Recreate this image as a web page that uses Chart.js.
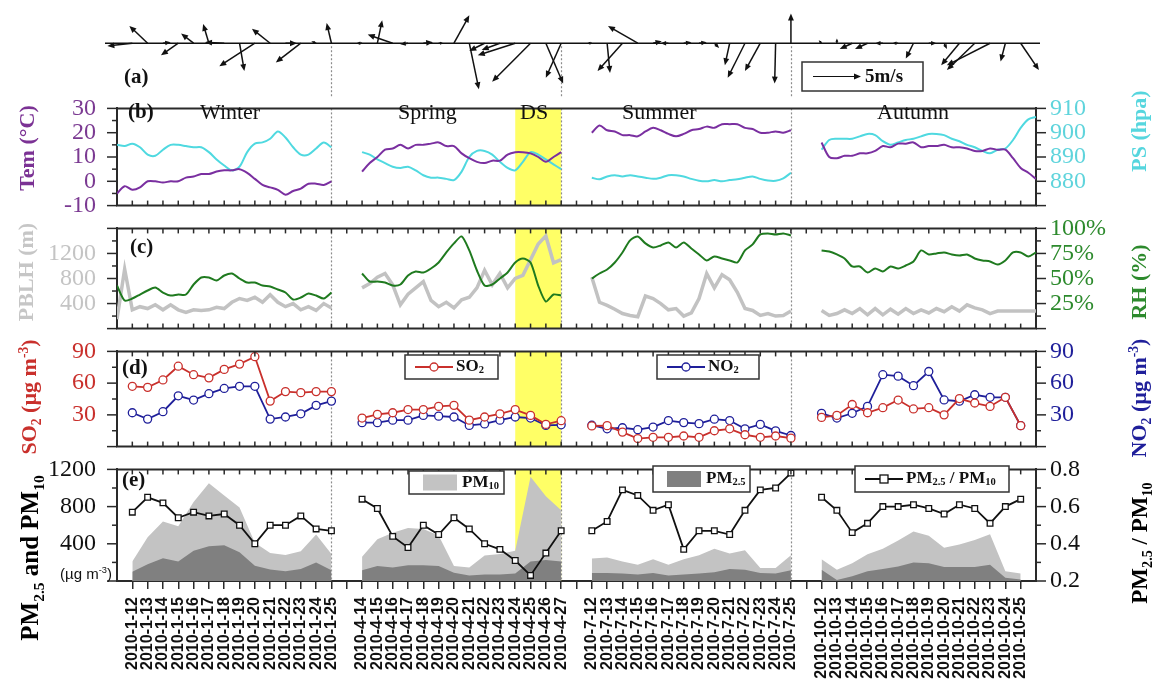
<!doctype html>
<html>
<head>
<meta charset="utf-8">
<title>Wind, meteorology and pollutants 2010</title>
<script src="https://cdn.jsdelivr.net/npm/chart.js"></script>
<style>
  html, body { margin: 0; padding: 0; background: #fff; }
  body { position: relative; width: 1152px; height: 686px; overflow: hidden; font-family: 'Liberation Serif', 'Times New Roman', serif; }
  .box { position: absolute; left: 0; width: 1152px; }
  .t { position: absolute; white-space: nowrap; line-height: 1; color: #111; }
  .v { position: absolute; white-space: nowrap; line-height: 1; font-weight: bold; transform: translate(-50%, -50%) rotate(-90deg); }
  sub, sup { font-size: 62%; line-height: 0; }
</style>
</head>
<body>

<div class="box" style="top:0;height:111px"><canvas id="windChart"></canvas></div>
<div class="box" style="top:83px;height:148px"><canvas id="tempChart"></canvas></div>
<div class="box" style="top:203px;height:151px"><canvas id="pblhChart"></canvas></div>
<div class="box" style="top:326px;height:146px"><canvas id="gasChart"></canvas></div>
<div class="box" style="top:444px;height:242px"><canvas id="pmChart"></canvas></div>

<!-- panel letters and season names -->
<div class="t" style="left:124px;top:66px;font-size:21px;font-weight:bold">(a)</div>
<div class="t" style="left:128px;top:101px;font-size:21px;font-weight:bold">(b)</div>
<div class="t" style="left:130px;top:236px;font-size:21px;font-weight:bold">(c)</div>
<div class="t" style="left:122px;top:357px;font-size:21px;font-weight:bold">(d)</div>
<div class="t" style="left:122px;top:469px;font-size:21px;font-weight:bold">(e)</div>
<div class="t" style="left:200px;top:101px;font-size:22px">Winter</div>
<div class="t" style="left:398px;top:101px;font-size:22px">Spring</div>
<div class="t" style="left:520px;top:101px;font-size:22px">DS</div>
<div class="t" style="left:622px;top:101px;font-size:22px">Summer</div>
<div class="t" style="left:877px;top:101px;font-size:22px">Autumn</div>

<!-- axis titles -->
<div class="v" style="left:27px;top:148px;font-size:22px;color:#7b3294">Tem (°C)</div>
<div class="v" style="left:1139px;top:131px;font-size:22px;color:#56d6de">PS (hpa)</div>
<div class="v" style="left:26px;top:272px;font-size:22px;color:#c6c6c6">PBLH (m)</div>
<div class="v" style="left:1139px;top:282px;font-size:22px;color:#2d8a2d">RH (%)</div>
<div class="v" style="left:29px;top:397px;font-size:22px;color:#c9302c">SO<sub>2</sub> (µg m<sup>-3</sup>)</div>
<div class="v" style="left:1139px;top:398px;font-size:22px;color:#1f1f9a">NO<sub>2</sub> (µg m<sup>-3</sup>)</div>
<div class="v" style="left:29px;top:558px;font-size:25px;color:#000">PM<sub>2.5</sub> and PM<sub>10</sub></div>
<div class="v" style="left:1139px;top:543px;font-size:23px;color:#000">PM<sub>2.5</sub> / PM<sub>10</sub></div>
<div class="t" style="left:60px;top:566px;font-size:15px;font-family:'Liberation Sans',Arial,sans-serif">(µg m<sup>-3</sup>)</div>

<script>
// ---- x layout: one index per day, gaps between the four periods ----
const X_MIN = -1, X_MAX = 59;
const HALF = 0.5;
const dayStart = [0, 15, 30, 45];
const hourStart = [-1, 15, 30, 45];
const seasonBreaks = [13, 28, 43];
const dustDays = [25, 28];

const winterDates = ['2010-1-12','2010-1-13','2010-1-14','2010-1-15','2010-1-16','2010-1-17','2010-1-18','2010-1-19','2010-1-20','2010-1-21','2010-1-22','2010-1-23','2010-1-24','2010-1-25'];
const springDates = ['2010-4-14','2010-4-15','2010-4-16','2010-4-17','2010-4-18','2010-4-19','2010-4-20','2010-4-21','2010-4-22','2010-4-23','2010-4-24','2010-4-25','2010-4-26','2010-4-27'];
const summerDates = ['2010-7-12','2010-7-13','2010-7-14','2010-7-15','2010-7-16','2010-7-17','2010-7-18','2010-7-19','2010-7-20','2010-7-21','2010-7-22','2010-7-23','2010-7-24','2010-7-25'];
const autumnDates = ['2010-10-12','2010-10-13','2010-10-14','2010-10-15','2010-10-16','2010-10-17','2010-10-18','2010-10-19','2010-10-20','2010-10-21','2010-10-22','2010-10-23','2010-10-24','2010-10-25'];

// ---- (a) daily wind vectors, m/s ----
const windUWinter = [-2.6, -1.9, 0.8, -1.8, -1.3, -0.6, -2.0, 0.5, -3.7, -1.9, 1.2, -2.6, -0.5, -0.5];
const windVWinter = [-0.3, 1.8, 0.1, -1.25, 1.0, 2.0, 0.1, -2.9, -2.4, 1.5, 0, -2.0, 0.2, 2.1];
const windUSpring = [-0.6, 0.5, -2.6, -0.8, 1.0, 0.5, 1.6, 1.0, -1.6, -1.9, -3.9, -4.0, 1.8, -1.6];
const windVSpring = [0, 2.4, 0.9, -0.1, 0.1, 0, 2.9, -4.8, -0.8, -0.7, -1.25, -4.0, -4.2, -3.6];
const windUSummer = [-0.5, 0.3, -2.6, -3.1, 0.9, -0.8, 0.8, 0.8, 0.5, -0.5, -1.8, -1.6, -0.1, 0];
const windVSummer = [0, -3.1, -2.9, 1.8, 0.2, 0, 0.1, 0.1, -0.5, -2.3, -3.6, -2.9, -4.2, 3.1];
const windUAutumn = [-0.3, 0, -1.3, -1.3, -0.8, -0.6, -0.8, 0.8, 0.3, -1.9, -2.9, -4.5, -0.5, 1.9];
const windVAutumn = [0.3, 0.5, -0.6, -0.6, 0, 0, -1.6, 0, -0.6, -2.3, -2.8, -2.3, -1.9, -2.8];

// ---- (b) temperature (°C) and surface pressure (hPa), twice a day ----
const temWinter = [-5, -2, -3.5, -2.5, 0, 0, -0.5, 0, 0, 1.5, 2, 3, 3, 4, 4.5, 4.5, 5, 3.5, 1, -1.5, -2.5, -3.5, -5.5, -4, -3, -1, -1, -1.5, 0];
const temSpring = [4, 7.5, 10, 13, 13.5, 15, 13.5, 15, 15, 15.5, 16, 14.5, 14.5, 11.5, 9.5, 8, 7.5, 8.5, 8.5, 11, 12, 12, 11.5, 10, 8, 10, 12];
const temSummer = [20, 23, 21, 20.5, 19, 19, 18.5, 20.5, 22, 21, 19.5, 18.5, 19.5, 21, 21.5, 22.5, 22, 23.5, 23.5, 23.5, 22, 21.5, 20, 20, 20.5, 20, 21];
const temAutumn = [16, 10, 9.5, 10.5, 10.5, 11.5, 11.5, 12.5, 14.5, 14, 15.5, 15.5, 16, 14, 14.5, 14.5, 15, 14, 14, 13.5, 12.5, 12.5, 13.5, 13, 13, 9.5, 5.5, 3.5, 1];
const psWinter = [895, 894.5, 895.5, 894, 891, 890.5, 893, 895, 895, 894.5, 894, 894, 892, 889, 886.5, 884.5, 886, 892, 895.5, 896, 897.5, 900.5, 898, 894, 891, 891, 893.5, 896, 894];
const psSpring = [892, 891, 889, 887.5, 886, 885.5, 886, 884.5, 882.5, 881.5, 881.5, 881, 880.5, 884, 890, 892.5, 892.5, 891, 888, 885.5, 884.5, 888, 892, 891, 889, 887, 885];
const psSummer = [881.5, 880.8, 882, 882.5, 882, 882.5, 882, 881.5, 881, 881.5, 882.5, 882.5, 882, 881, 880.2, 880, 880.5, 880, 880.5, 880.8, 881.5, 882, 881, 880.3, 880.2, 881.2, 883.5];
const psAutumn = [893, 897, 897.5, 897.5, 897.5, 898.5, 899.5, 899, 896.5, 895, 896, 897, 897.5, 898.5, 899.5, 899.5, 899, 897.5, 896.5, 895, 894, 892.5, 891.5, 893, 893.5, 897, 902, 905.5, 906.5];

// ---- (c) boundary layer height (m) and relative humidity (%) ----
const pblhWinter = [150, 950, 300, 350, 320, 380, 300, 380, 300, 260, 300, 290, 300, 340, 320, 420, 480, 450, 500, 420, 540, 420, 350, 400, 300, 350, 290, 400, 330];
const pblhSpring = [650, 720, 820, 880, 700, 380, 550, 650, 750, 450, 350, 420, 330, 460, 500, 650, 930, 700, 880, 650, 800, 850, 1100, 1350, 1480, 1050, 1100];
const pblhSummer = [820, 420, 370, 310, 240, 210, 190, 520, 480, 400, 300, 320, 200, 250, 480, 880, 650, 860, 780, 580, 320, 290, 210, 240, 200, 210, 280];
const pblhAutumn = [290, 210, 240, 300, 240, 320, 220, 320, 220, 310, 230, 320, 240, 300, 250, 320, 270, 350, 280, 380, 330, 300, 240, 280, 280, 280, 280, 280, 280];
const rhWinter = [43, 28, 30, 34, 38, 41, 36, 33, 34, 34, 44, 51, 51, 48, 53, 55, 50, 46, 46, 43, 42, 39, 36, 29, 31, 35, 33, 30, 36];
const rhSpring = [55, 47, 47, 46, 43, 44, 53, 57, 56, 60, 66, 76, 85, 92, 78, 58, 43, 44, 50, 56, 66, 70, 66, 43, 27, 34, 33];
const rhSummer = [50, 55, 59, 66, 76, 88, 92, 85, 81, 83, 86, 81, 86, 80, 74, 68, 72, 70, 68, 66, 78, 84, 94, 95, 94, 95, 93];
const rhAutumn = [78, 77, 74, 70, 62, 62, 56, 60, 57, 62, 60, 63, 67, 78, 74, 75, 76, 74, 73, 74, 70, 68, 67, 64, 68, 76, 76, 72, 76];

// ---- (d) daily SO2 and NO2 (µg m-3) ----
const so2Winter = [57, 56, 63, 76, 68, 65, 73, 78, 85, 43, 52, 51, 52, 52];
const so2Spring = [27, 30.5, 32, 35, 35, 38, 39, 25, 28, 31, 35, 29.5, 21, 24.5];
const so2Summer = [19.5, 19.8, 13.7, 7.6, 8.8, 8.8, 10, 8.8, 15, 16.8, 11.2, 8.8, 10, 8];
const so2Autumn = [27.6, 29.5, 39.8, 32, 36.8, 44, 35.6, 36.8, 30, 45.4, 41.2, 38, 46.6, 19.8];
const no2Winter = [32, 26, 33, 48, 44, 50, 55, 57, 57, 26, 28, 31, 39, 43];
const no2Spring = [22.6, 22.6, 25, 25, 29.5, 28.8, 28, 20, 21.4, 25, 28, 27, 20, 20.6];
const no2Summer = [20.2, 16.8, 17.8, 16, 18.5, 24.6, 22.7, 21.7, 25.9, 24.6, 16.8, 21, 14.9, 10.5];
const no2Autumn = [31.5, 27, 31.5, 38, 68, 66.6, 57.6, 71, 44.1, 42.9, 49, 46.6, 46.6, 19.8];

// ---- (e) daily PM10, PM2.5 (µg m-3) and PM2.5/PM10 ----
const pm10Winter = [210, 470, 640, 590, 850, 1050, 920, 790, 410, 300, 280, 320, 500, 290];
const pm10Spring = [260, 450, 520, 570, 560, 490, 160, 145, 275, 290, 325, 1120, 910, 760];
const pm10Summer = [243, 254, 209, 174, 233, 174, 233, 278, 348, 296, 330, 139, 139, 278];
const pm10Autumn = [233, 122, 191, 288, 348, 435, 532, 487, 358, 393, 441, 504, 104, 80];
const pm25Winter = [100, 180, 245, 210, 325, 375, 385, 310, 165, 125, 105, 130, 200, 115];
const pm25Spring = [115, 160, 145, 170, 170, 160, 90, 60, 70, 70, 80, 210, 225, 210];
const pm25Summer = [87, 87, 80, 70, 87, 59, 70, 80, 94, 129, 122, 87, 80, 115];
const pm25Autumn = [122, 10, 52, 104, 129, 157, 198, 191, 150, 150, 150, 174, 35, 17];
const ratioWinter = [0.57, 0.65, 0.62, 0.54, 0.57, 0.55, 0.56, 0.50, 0.40, 0.50, 0.50, 0.55, 0.48, 0.47];
const ratioSpring = [0.64, 0.59, 0.44, 0.38, 0.50, 0.45, 0.54, 0.48, 0.40, 0.37, 0.31, 0.23, 0.35, 0.47];
const ratioSummer = [0.47, 0.52, 0.69, 0.66, 0.58, 0.61, 0.37, 0.47, 0.47, 0.45, 0.58, 0.69, 0.70, 0.78];
const ratioAutumn = [0.65, 0.58, 0.46, 0.51, 0.60, 0.60, 0.61, 0.59, 0.56, 0.61, 0.59, 0.51, 0.60, 0.64];

const SERIF = "'Liberation Serif', 'Times New Roman', serif";
const SANS = "'Liberation Sans', Arial, sans-serif";
const INK = '#2a2a2a';

// points for several periods, broken by a null between them
function joinPeriods(starts, step, arrays) {
  const pts = [];
  arrays.forEach((arr, p) => {
    if (p > 0) pts.push({x: starts[p] - step, y: null});
    arr.forEach((v, k) => pts.push({x: starts[p] + k * step, y: v}));
  });
  return pts;
}
function onePeriod(start, arr) {
  return arr.map((v, k) => ({x: start + k, y: v}));
}

const dateAt = {};
[winterDates, springDates, summerDates, autumnDates].forEach((arr, p) => {
  arr.forEach((d, k) => { dateAt[dayStart[p] + k] = d; });
});
const dayTicks = [];
for (let i = X_MIN + 1; i < X_MAX; i++) dayTicks.push(i);

const windPoints = [];
[[windUWinter, windVWinter], [windUSpring, windVSpring], [windUSummer, windVSummer], [windUAutumn, windVAutumn]]
  .forEach(([us, vs], p) => us.forEach((u, k) => windPoints.push({x: dayStart[p] + k, y: 0, u: u, v: vs[k]})));

// ---- drawing helpers ----
function seg(ctx, x0, y0, x1, y1) {
  ctx.beginPath(); ctx.moveTo(x0, y0); ctx.lineTo(x1, y1); ctx.stroke();
}
function arrow(ctx, x0, y0, x1, y1) {
  const len = Math.hypot(x1 - x0, y1 - y0);
  if (len < 0.5) return;
  const head = Math.min(7, len * 0.7), half = head * 0.42;
  const c = (x1 - x0) / len, s = (y1 - y0) / len;
  seg(ctx, x0, y0, x1 - c * head * 0.6, y1 - s * head * 0.6);
  ctx.beginPath();
  ctx.moveTo(x1, y1);
  ctx.lineTo(x1 - c * head - s * half, y1 - s * head + c * half);
  ctx.lineTo(x1 - c * head + s * half, y1 - s * head - c * half);
  ctx.closePath(); ctx.fill();
}
function richText(ctx, parts, x, y, size) {
  let cx = x;
  parts.forEach(([t, mode]) => {
    const s = mode ? size * 0.62 : size;
    ctx.font = 'bold ' + s + 'px ' + SERIF;
    const dy = mode === 'sub' ? size * 0.22 : (mode === 'sup' ? -size * 0.4 : 0);
    ctx.fillText(t, cx, y + dy);
    cx += ctx.measureText(t).width;
  });
}
function drawLegend(ctx, L, top) {
  const y = L.y - top, cy = y + L.h / 2;
  ctx.save();
  ctx.fillStyle = '#fff'; ctx.strokeStyle = '#333'; ctx.lineWidth = 1.5;
  ctx.fillRect(L.x, y, L.w, L.h); ctx.strokeRect(L.x, y, L.w, L.h);
  let tx;
  if (L.kind === 'rect') {
    ctx.fillStyle = L.color; ctx.fillRect(L.x + 14, cy - 8, 34, 16);
    tx = L.x + 53;
  } else {
    ctx.strokeStyle = L.color; ctx.lineWidth = 2;
    seg(ctx, L.x + 10, cy, L.x + 48, cy);
    ctx.fillStyle = '#fff'; ctx.lineWidth = 1.3;
    if (L.marker === 'rect') { ctx.fillRect(L.x + 25, cy - 4, 8, 8); ctx.strokeRect(L.x + 25, cy - 4, 8, 8); }
    else { ctx.beginPath(); ctx.arc(L.x + 29, cy, 4, 0, Math.PI * 2); ctx.fill(); ctx.stroke(); }
    tx = L.x + 51;
  }
  ctx.fillStyle = '#111'; ctx.textBaseline = 'middle';
  richText(ctx, L.text, tx, cy, 17);
  ctx.restore();
}

// band, dotted season lines, frame, tick marks, legends
const decoPlugin = {
  id: 'deco',
  beforeDatasetsDraw(chart, args, o) {
    const {ctx, chartArea: a} = chart;
    const xs = chart.scales.x;
    ctx.save();
    if (o.band) {
      const x0 = xs.getPixelForValue(o.band[0]), x1 = xs.getPixelForValue(o.band[1]);
      ctx.fillStyle = '#ffff66';
      ctx.fillRect(x0, a.top, x1 - x0, a.bottom - a.top);
    }
    if (o.dividers) {
      ctx.strokeStyle = '#8c8c8c'; ctx.lineWidth = 1.2; ctx.setLineDash([2, 2]);
      const yTop = o.dividerTop != null ? chart.scales.y.getPixelForValue(0) + o.dividerTop : a.top;
      o.dividers.forEach(d => {
        const x = Math.round(xs.getPixelForValue(d)) + 0.5;
        seg(ctx, x, yTop, x, a.bottom);
      });
    }
    ctx.restore();
  },
  afterDraw(chart, args, o) {
    const {ctx, chartArea: a} = chart;
    const xs = chart.scales.x;
    ctx.save();
    ctx.strokeStyle = INK;
    if (o.frame) {
      ctx.lineWidth = 2;
      if (o.frame.top) seg(ctx, a.left - 1, a.top, a.right + 1, a.top);
      if (o.frame.bottom) seg(ctx, a.left - 1, a.bottom, a.right + 1, a.bottom);
      ctx.lineWidth = 1.5;
      dayTicks.forEach(i => {
        const x = xs.getPixelForValue(i);
        if (o.frame.topTicks) seg(ctx, x, a.top, x, a.top + 5);
        if (o.frame.bottomTicks) seg(ctx, x, a.bottom - 5, x, a.bottom);
      });
    }
    (o.yTicks || []).forEach(t => {
      const s = chart.scales[t.id];
      const left = s.position === 'left';
      const x = left ? a.left : a.right;
      ctx.lineWidth = 1.5;
      const n = Math.round((s.max - s.min) / t.minor);
      for (let i = 0; i <= n; i++) {
        const v = s.min + i * t.minor;
        const r = v / t.major;
        const len = Math.abs(r - Math.round(r)) < 1e-6 ? 10 : 5;
        const y = s.getPixelForValue(v);
        seg(ctx, x, y, left ? x - len : x + len, y);
      }
    });
    (o.legends || []).forEach(L => drawLegend(ctx, L, o.top));
    ctx.restore();
  }
};

// stick vectors on a base line, scaled with the y axis (m/s)
const windPlugin = {
  id: 'wind',
  afterDatasetsDraw(chart, args, o) {
    if (!o.on) return;
    const {ctx, chartArea: a} = chart;
    const xs = chart.scales.x, ys = chart.scales.y;
    const y0 = ys.getPixelForValue(0);
    const ppm = y0 - ys.getPixelForValue(1);
    ctx.save();
    ctx.strokeStyle = '#111'; ctx.fillStyle = '#111'; ctx.lineWidth = 1.5;
    seg(ctx, a.left - 12, y0, a.right + 4, y0);
    chart.data.datasets[0].data.forEach(p => {
      const x = xs.getPixelForValue(p.x);
      arrow(ctx, x, y0, x + p.u * ppm, y0 - p.v * ppm);
    });
    // reference arrow
    const b = o.key;
    ctx.fillStyle = '#fff'; ctx.strokeStyle = '#333';
    ctx.fillRect(b.x, b.y, b.w, b.h); ctx.strokeRect(b.x, b.y, b.w, b.h);
    ctx.fillStyle = '#111'; ctx.strokeStyle = '#111'; ctx.lineWidth = 1.2;
    const ay = b.y + b.h / 2;
    arrow(ctx, b.x + 11, ay, b.x + 11 + b.speed * ppm, ay);
    ctx.font = 'bold 19px ' + SERIF; ctx.textBaseline = 'middle';
    ctx.fillText(b.speed + 'm/s', b.x + 15 + b.speed * ppm, ay + 1);
    ctx.restore();
  }
};

Chart.register(decoPlugin, windPlugin);
Chart.defaults.font.family = SERIF;

function yAxis(pos, min, max, labels, color, fmt) {
  return {
    type: 'linear', position: pos, min: min, max: max,
    afterFit: s => { s.width = pos === 'left' ? 117 : 116; },
    afterBuildTicks: s => { s.ticks = labels.map(v => ({value: v})); },
    grid: {display: true, drawOnChartArea: false, drawTicks: true, tickLength: 10, color: 'rgba(0,0,0,0)'},
    border: {display: true, color: INK, width: 2},
    ticks: {autoSkip: false, color: color, font: {family: SERIF, size: 24}, padding: pos === 'left' ? 11 : 4,
            callback: fmt || (v => String(v))}
  };
}
function xHidden() { return {type: 'linear', min: X_MIN, max: X_MAX, display: false}; }
function baseOptions(scales, deco, padding) {
  return {
    responsive: true, maintainAspectRatio: false, animation: false, events: [],
    layout: {padding: padding || {top: 14, bottom: 14, left: 0, right: 0}},
    scales: scales,
    plugins: {legend: {display: false}, tooltip: {enabled: false}, deco: deco}
  };
}
function lineSet(data, axis, color, width, tension) {
  return {data: data, yAxisID: axis, borderColor: color, borderWidth: width, pointRadius: 0, tension: tension, fill: false, spanGaps: false};
}
function markerSet(data, axis, color, style) {
  return {data: data, yAxisID: axis, borderColor: color, borderWidth: 1.8, tension: 0, fill: false, spanGaps: false,
          pointStyle: style, pointRadius: 4, pointBorderWidth: 1.3, pointBackgroundColor: '#fff', pointBorderColor: color};
}
function areaSet(data, color) {
  return {data: data, yAxisID: 'yPM', backgroundColor: color, borderWidth: 0, pointRadius: 0, tension: 0, fill: 'origin'};
}

// (a) wind
new Chart(document.getElementById('windChart'), {
  type: 'scatter',
  data: {datasets: [{data: windPoints, pointRadius: 0}]},
  options: {
    responsive: true, maintainAspectRatio: false, animation: false, events: [],
    layout: {padding: {left: 117, right: 116, top: 0, bottom: 14}},
    scales: {x: xHidden(), y: {type: 'linear', min: -5.6, max: 4.5, display: false}},
    plugins: {legend: {display: false}, tooltip: {enabled: false},
      deco: {dividers: seasonBreaks, dividerTop: 3},
      wind: {on: true, key: {x: 802, y: 62, w: 121, h: 29, speed: 5}}}
  }
});

// (b) temperature and pressure
new Chart(document.getElementById('tempChart'), {
  type: 'line',
  data: {datasets: [
    lineSet(joinPeriods(hourStart, HALF, [temWinter, temSpring, temSummer, temAutumn]), 'yT', '#7a2fa0', 2, 0.3),
    lineSet(joinPeriods(hourStart, HALF, [psWinter, psSpring, psSummer, psAutumn]), 'yP', '#4fd9e0', 2, 0.3)
  ]},
  options: baseOptions({
    x: xHidden(),
    yT: yAxis('left', -10, 30, [-10, 0, 10, 20, 30], '#7b3a92'),
    yP: yAxis('right', 870, 910, [880, 890, 900, 910], '#5fd4dc')
  }, {band: dustDays, dividers: seasonBreaks, frame: {top: true, bottom: true, bottomTicks: true},
      yTicks: [{id: 'yT', major: 10, minor: 5}, {id: 'yP', major: 10, minor: 5}]})
});

// (c) PBLH and RH
new Chart(document.getElementById('pblhChart'), {
  type: 'line',
  data: {datasets: [
    lineSet(joinPeriods(hourStart, HALF, [rhWinter, rhSpring, rhSummer, rhAutumn]), 'yR', '#1f7a1f', 2, 0.25),
    lineSet(joinPeriods(hourStart, HALF, [pblhWinter, pblhSpring, pblhSummer, pblhAutumn]), 'yH', '#c2c2c2', 3.5, 0)
  ]},
  options: baseOptions({
    x: xHidden(),
    yH: yAxis('left', 0, 1600, [400, 800, 1200], '#c4c4c4'),
    yR: yAxis('right', 0, 100, [25, 50, 75, 100], '#2d8a2d', v => v + '%')
  }, {band: dustDays, dividers: seasonBreaks, frame: {top: true, bottom: true, topTicks: true, bottomTicks: true},
      yTicks: [{id: 'yH', major: 400, minor: 200}, {id: 'yR', major: 25, minor: 12.5}]})
});

// (d) SO2 and NO2
new Chart(document.getElementById('gasChart'), {
  type: 'line',
  data: {datasets: [
    markerSet(joinPeriods(dayStart, 1, [so2Winter, so2Spring, so2Summer, so2Autumn]), 'yS', '#c9302c', 'circle'),
    markerSet(joinPeriods(dayStart, 1, [no2Winter, no2Spring, no2Summer, no2Autumn]), 'yN', '#1f1f9a', 'circle')
  ]},
  options: baseOptions({
    x: xHidden(),
    yS: yAxis('left', 0, 90, [30, 60, 90], '#c9302c'),
    yN: yAxis('right', 0, 90, [30, 60, 90], '#1f1f9a')
  }, {band: dustDays, dividers: seasonBreaks, frame: {top: true, bottom: true, topTicks: true, bottomTicks: true},
      yTicks: [{id: 'yS', major: 30, minor: 15}, {id: 'yN', major: 30, minor: 15}], top: 326,
      legends: [
        {x: 405, y: 355, w: 93, h: 24, marker: 'circle', color: '#c9302c', text: [['SO'], ['2', 'sub']]},
        {x: 657, y: 355, w: 102, h: 24, marker: 'circle', color: '#1f1f9a', text: [['NO'], ['2', 'sub']]}
      ]})
});

// (e) particulate matter
const pmSets = [markerSet(joinPeriods(dayStart, 1, [ratioWinter, ratioSpring, ratioSummer, ratioAutumn]), 'yRatio', '#111', 'rect')];
[pm25Winter, pm25Spring, pm25Summer, pm25Autumn].forEach((arr, p) => pmSets.push(areaSet(onePeriod(dayStart[p], arr), '#808080')));
[pm10Winter, pm10Spring, pm10Summer, pm10Autumn].forEach((arr, p) => pmSets.push(areaSet(onePeriod(dayStart[p], arr), '#c3c3c3')));

new Chart(document.getElementById('pmChart'), {
  type: 'line',
  data: {datasets: pmSets},
  options: baseOptions({
    x: {
      type: 'linear', min: X_MIN, max: X_MAX, position: 'bottom',
      afterFit: s => { s.height = 105; },
      afterBuildTicks: s => { s.ticks = dayTicks.map(v => ({value: v})); },
      grid: {drawOnChartArea: false, drawTicks: true, tickLength: 8, color: INK, lineWidth: 1.5},
      border: {display: true, color: INK, width: 2},
      ticks: {autoSkip: false, minRotation: 90, maxRotation: 90, padding: 8, color: '#111',
              font: {family: SANS, weight: 'bold', size: 16}, callback: v => dateAt[v] || ''}
    },
    yPM: yAxis('left', 0, 1200, [400, 800, 1200], '#111'),
    yRatio: yAxis('right', 0.2, 0.8, [0.2, 0.4, 0.6, 0.8], '#111', v => v.toFixed(1))
  }, {band: dustDays, dividers: seasonBreaks, frame: {top: true, topTicks: true},
      yTicks: [{id: 'yPM', major: 400, minor: 200}, {id: 'yRatio', major: 0.2, minor: 0.1}], top: 444,
      legends: [
        {x: 409, y: 471, w: 95, h: 23, kind: 'rect', color: '#c3c3c3', text: [['PM'], ['10', 'sub']]},
        {x: 653, y: 466, w: 97, h: 26, kind: 'rect', color: '#808080', text: [['PM'], ['2.5', 'sub']]},
        {x: 855, y: 466, w: 154, h: 26, marker: 'rect', color: '#111', text: [['PM'], ['2.5', 'sub'], [' / PM'], ['10', 'sub']]}
      ]},
    {top: 14, bottom: 0, left: 0, right: 0})
});
</script>
</body>
</html>
